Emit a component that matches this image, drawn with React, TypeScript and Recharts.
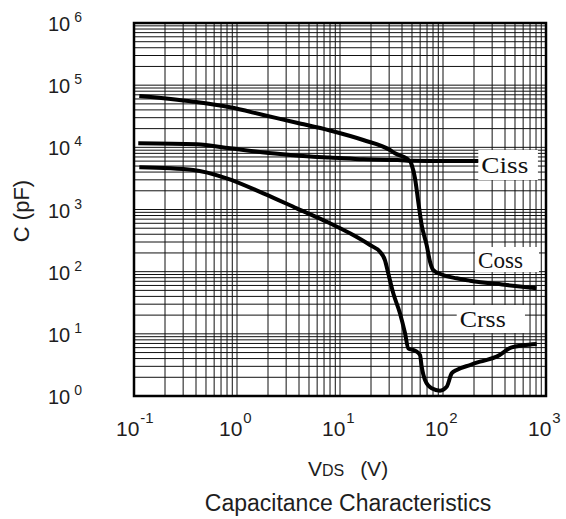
import React from "react";
import {
  LineChart,
  Line,
  XAxis,
  YAxis,
  CartesianGrid,
  ReferenceArea,
} from "recharts";

// ---- data (VDS in volts, capacitance in pF) ----
const cissVds = [0.1126, 0.376, 0.855, 1.8, 3.8, 8.0, 16.8, 30.6, 34.2, 44.4, 47.8, 93.5, 220];
const cissPf = [66900, 54200, 44000, 33100, 24900, 18660, 13120, 9060, 8015, 6660, 6090, 6030, 6030];

const cossVds = [0.11, 0.406, 0.855, 2.62, 5.51, 8.0, 16.8, 35.5, 47.8, 49.7, 53.5, 57.5, 62.1, 69.4, 74.8, 80.5, 97.1, 135.9, 182.8, 415, 809];
const cossPf = [11600, 11190, 9640, 7810, 7060, 6860, 6410, 6250, 6030, 5195, 3175, 1335, 563, 268, 144.6, 106, 90, 78.2, 71.6, 61, 54];

const crssVds = [0.1126, 0.376, 0.794, 1.8, 3.8, 8.0, 12.5, 19.56, 24.4, 27.3, 29.4, 32.9, 38.2, 42.8, 46.0, 53.5, 59.8, 62.1, 66.9, 77.6, 93.5, 108.6, 121.5, 135.9, 182.8, 228.6, 332, 464.5, 602, 812];
const crssPf = [4770, 4320, 3175, 1820, 1045, 600, 414, 268, 209, 154, 94.1, 44.9, 21.4, 10.2, 5.85, 5.35, 4.57, 2.96, 1.81, 1.33, 1.22, 1.41, 2.32, 2.62, 3.15, 3.56, 4.29, 6.07, 6.54, 6.86];

const xTicks = [
  0.1, 0.2, 0.3, 0.4, 0.5, 0.6, 0.7, 0.8, 0.9,
  1, 2, 3, 4, 5, 6, 7, 8, 9,
  10, 20, 30, 40, 50, 60, 70, 80, 90,
  100, 200, 300, 400, 500, 600, 700, 800, 900,
  1000,
];
const yTicks = [
  1, 2, 3, 4, 5, 6, 7, 8, 9,
  10, 20, 30, 40, 50, 60, 70, 80, 90,
  100, 200, 300, 400, 500, 600, 700, 800, 900,
  1000, 2000, 3000, 4000, 5000, 6000, 7000, 8000, 9000,
  10000, 20000, 30000, 40000, 50000, 60000, 70000, 80000, 90000,
  100000, 200000, 300000, 400000, 500000, 600000, 700000, 800000, 900000,
  1000000,
];

// label boxes in data units
const seriesLabels = ["Ciss", "Coss", "Crss"];
const labelBoxX1 = [220, 204.5, 135.9];
const labelBoxX2 = [835, 855, 625];
const labelBoxY1 = [2980, 98.8, 10.3];
const labelBoxY2 = [9060, 249, 29.1];
const labelTextWidth = [47, 45, 46];

const zip = (xs: number[], ys: number[]) => xs.map((v, i) => ({ v, c: ys[i] }));
const cissData = zip(cissVds, cissPf);
const cossData = zip(cossVds, cossPf);
const crssData = zip(crssVds, crssPf);

const TEXT = "#1e1e1e";
const SANS = "'Liberation Sans', Arial, sans-serif";
const SERIF = "'Liberation Serif', 'Times New Roman', serif";

const decade = (v: number): number | null => {
  const l = Math.log10(v);
  const e = Math.round(l);
  return Math.abs(l - e) < 1e-9 ? e : null;
};

const XTick = (props: any) => {
  const { x, y, payload } = props;
  const e = decade(payload.value);
  if (e === null) return <g />;
  return (
    <text x={x - 18} y={y + 40} fill={TEXT} fontFamily={SANS} fontSize={21} textAnchor="start">
      <tspan>10</tspan>
      <tspan dx={1} dy={-13} fontSize={15}>{String(e)}</tspan>
    </text>
  );
};

const YTick = (props: any) => {
  const { x, y, payload } = props;
  const e = decade(payload.value);
  if (e === null) return <g />;
  return (
    <text x={x - 86} y={y + 8} fill={TEXT} fontFamily={SANS} fontSize={20} textAnchor="start">
      <tspan>10</tspan>
      <tspan dx={4} dy={-9} fontSize={14}>{String(e)}</tspan>
    </text>
  );
};

const XTitles = (props: any) => {
  const vb = props.viewBox || {};
  const cx = vb.x + vb.width / 2 + 8;
  return (
    <g>
      <text x={cx} y={vb.y + 80} fill={TEXT} fontFamily={SANS} textAnchor="middle">
        <tspan fontSize={21}>V</tspan>
        <tspan fontSize={16}>DS</tspan>
        <tspan fontSize={21} dx={16}>(V)</tspan>
      </text>
      <text x={cx} y={vb.y + 115} fill={TEXT} fontFamily={SANS} fontSize={23} textAnchor="middle">
        Capacitance Characteristics
      </text>
    </g>
  );
};

const YTitle = (props: any) => {
  const vb = props.viewBox || {};
  const cx = vb.x + 21;
  const cy = vb.y + vb.height / 2 + 1.5;
  return (
    <text
      x={cx}
      y={cy}
      fill={TEXT}
      fontFamily={SANS}
      fontSize={22}
      textAnchor="middle"
      dominantBaseline="central"
      transform={`rotate(-90, ${cx}, ${cy})`}
    >
      C (pF)
    </text>
  );
};

const makeBoxLabel = (text: string, w: number) => (props: any) => {
  const vb = props.viewBox || {};
  return (
    <text
      x={vb.x + 3}
      y={vb.y + vb.height / 2 + 8}
      fill="#111"
      fontFamily={SERIF}
      fontSize={23}
      textLength={w}
      lengthAdjust="spacingAndGlyphs"
    >
      {text}
    </text>
  );
};

export default function App() {
  return (
    <div style={{ position: "absolute", left: 0, top: 0, width: 566, height: 519, background: "#fff" }}>
      <LineChart width={566} height={519} margin={{ top: 23, right: 20, left: 0, bottom: 0 }}>
        <CartesianGrid stroke="#111" strokeWidth={1} />
        <XAxis
          dataKey="v"
          type="number"
          scale="log"
          domain={[0.1, 1000]}
          ticks={xTicks}
          interval={0}
          allowDataOverflow
          height={123}
          tickLine={false}
          axisLine={false}
          tickSize={0}
          tickMargin={0}
          tick={<XTick />}
          label={{ content: <XTitles /> }}
        />
        <YAxis
          dataKey="c"
          type="number"
          scale="log"
          domain={[1, 1000000]}
          ticks={yTicks}
          interval={0}
          allowDataOverflow
          width={134}
          tickLine={false}
          axisLine={false}
          tickSize={0}
          tickMargin={0}
          tick={<YTick />}
          label={{ content: <YTitle /> }}
        />
        {seriesLabels.map((t, i) => (
          <ReferenceArea
            key={t}
            x1={labelBoxX1[i]}
            x2={labelBoxX2[i]}
            y1={labelBoxY1[i]}
            y2={labelBoxY2[i]}
            fill="#fff"
            fillOpacity={1}
            stroke="none"
            ifOverflow="visible"
            label={{ content: makeBoxLabel(t, labelTextWidth[i]) }}
          />
        ))}
        <Line data={cissData} dataKey="c" type="monotone" stroke="#000" strokeWidth={4} dot={false} activeDot={false} isAnimationActive={false} />
        <Line data={cossData} dataKey="c" type="monotone" stroke="#000" strokeWidth={4} dot={false} activeDot={false} isAnimationActive={false} />
        <Line data={crssData} dataKey="c" type="monotone" stroke="#000" strokeWidth={4} dot={false} activeDot={false} isAnimationActive={false} />
        <ReferenceArea
          x1={0.1}
          x2={1000}
          y1={1}
          y2={1000000}
          fill="none"
          stroke="#000"
          strokeWidth={2.5}
          ifOverflow="visible"
        />
      </LineChart>
    </div>
  );
}
